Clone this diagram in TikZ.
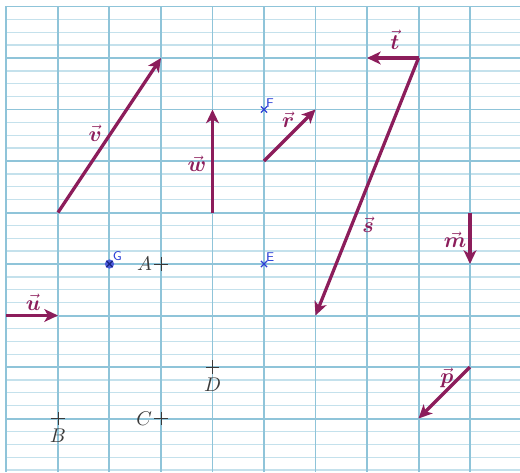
\documentclass[tikz,border=0pt]{standalone}
\usepackage{amsmath,amssymb}
\usepackage{tikz}
\usetikzlibrary{arrows.meta,positioning,calc}

\definecolor{gridblue}{HTML}{8FC4D9}
\definecolor{gridlight}{HTML}{C4E1EC}
\definecolor{vecred}{HTML}{8C1D5B}
\definecolor{ptblue}{HTML}{2B3FD6}
\definecolor{ptgray}{HTML}{3A3A3A}

\tikzset{
  gridmajor/.style={gridblue, line width=1.1pt},
  gridminor/.style={gridlight, line width=0.7pt},
  vec/.style={vecred, line width=1.8pt, -{Stealth[length=7.5pt,width=7pt,inset=2pt]}},
  veclabel/.style={vecred, font=\fontsize{13}{15}\selectfont, inner sep=1pt},
  plusmark/.style={ptgray, line width=0.5pt},
  ptlabel/.style={ptgray, font=\fontsize{11}{13}\selectfont},
  geolabel/.style={ptblue, font=\sffamily\fontsize{7}{8}\selectfont, inner sep=1pt},
}

\begin{document}
\begin{tikzpicture}
    \useasboundingbox (-0.126,-9.039) rectangle (9.971,0.126);

    % Seyes paper
    \foreach \k in {0,...,36}
      \draw[gridminor] (0,-\k/4) -- (9.971,-\k/4);
    \foreach \j in {0,...,8}
      \draw[gridmajor] (0,-\j) -- (9.971,-\j);
    \foreach \i in {0,...,9}
      \draw[gridmajor] (\i,0) -- (\i,-9.039);

    % end points of the vectors
    \coordinate (V0) at (1,-4);  \coordinate (V1) at (3,-1);
    \coordinate (W0) at (4,-4);  \coordinate (W1) at (4,-2);
    \coordinate (R0) at (5,-3);  \coordinate (R1) at (6,-2);
    \coordinate (T0) at (8,-1);  \coordinate (T1) at (7,-1);
    \coordinate (S1) at (6,-6);
    \coordinate (M0) at (9,-4);  \coordinate (M1) at (9,-5);
    \coordinate (P0) at (9,-7);  \coordinate (P1) at (8,-8);
    \coordinate (U0) at (0,-6);  \coordinate (U1) at (1,-6);

    % vectors
    \draw[vec] (V0) -- (V1);
    \draw[vec] (W0) -- (W1);
    \draw[vec] (R0) -- (R1);
    \draw[vec] (T0) -- (T1);
    \draw[vec] (T0) -- (S1);
    \draw[vec] (M0) -- (M1);
    \draw[vec] (P0) -- (P1);
    \draw[vec] (U0) -- (U1);

    \node[veclabel] (lv) at (1.72,-2.46) {$\vec{\boldsymbol{v}}$};
    \node[veclabel] (lw) at (3.70,-3.06) {$\vec{\boldsymbol{w}}$};
    \node[veclabel] (lr) at (5.47,-2.20) {$\vec{\boldsymbol{r}}$};
    \node[veclabel] (lt) at (7.54,-0.65) {$\vec{\boldsymbol{t}}$};
    \node[veclabel] (ls) at (7.02,-4.24) {$\vec{\boldsymbol{s}}$};
    \node[veclabel] (lm) at (8.71,-4.53) {$\vec{\boldsymbol{m}}$};
    \node[veclabel] (lp) at (8.55,-7.21) {$\vec{\boldsymbol{p}}$};
    \node[veclabel] (lu) at (0.52,-5.74) {$\vec{\boldsymbol{u}}$};

    % points A, B, C, D
    \coordinate (A) at (3,-5);
    \coordinate (B) at (1,-8);
    \coordinate (C) at (3,-8);
    \coordinate (D) at (4,-7);
    \foreach \pt in {A,B,C,D}
      \draw[plusmark] (\pt) +(-0.13,0) -- +(0.13,0) +(0,-0.13) -- +(0,0.13);
    \node[ptlabel, left=1.5pt of A] (lA) {$A$};
    \node[ptlabel, below=2.5pt of B] (lB) {$B$};
    \node[ptlabel, left=1.5pt of C] (lC) {$C$};
    \node[ptlabel, below=2.5pt of D] (lD) {$D$};

    % points E, F, G
    \coordinate (E) at (5,-5);
    \coordinate (F) at (5,-2);
    \coordinate (G) at (2,-5);
    \foreach \pt in {E,F}
      \draw[ptblue, line width=0.7pt] (\pt) +(-0.06,-0.06) -- +(0.06,0.06) +(-0.06,0.06) -- +(0.06,-0.06);
    \fill[ptblue!85] (G) circle (0.09);
    \draw[ptblue!60!black, line width=0.7pt] (G) +(-0.06,-0.06) -- +(0.06,0.06) +(-0.06,0.06) -- +(0.06,-0.06);
    \node[geolabel, above right=0pt of E] (lE) {E};
    \node[geolabel, above right=0pt of F] (lF) {F};
    \node[geolabel, above right=1pt of G] (lG) {G};
\end{tikzpicture}
\end{document}
